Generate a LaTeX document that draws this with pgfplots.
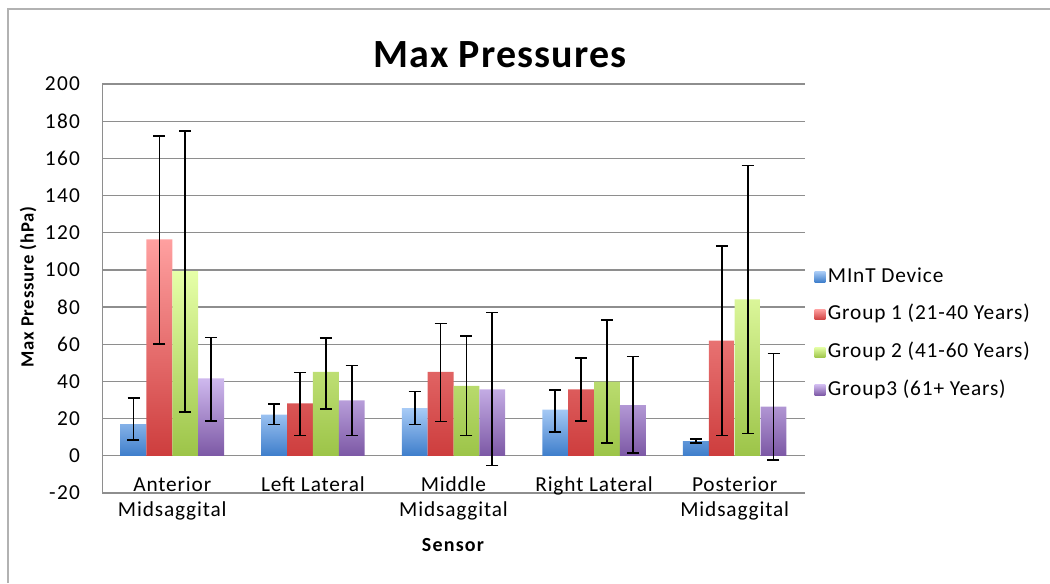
\documentclass[border=0pt]{standalone}
\usepackage{fontspec}
\setmainfont{Carlito}
\newfontfamily\fA{Carlito}[LetterSpace=6]
\newfontfamily\fB{Carlito}[LetterSpace=4]
\newfontfamily\fC{Carlito}[LetterSpace=3]
\usepackage{pgfplots}
\pgfplotsset{compat=1.18}
\definecolor{bT}{HTML}{A8CBF6}
\definecolor{bB}{HTML}{3E7ECB}
\definecolor{rT}{HTML}{FFA0A0}
\definecolor{rB}{HTML}{CD3D3D}
\definecolor{gT}{HTML}{E6FFA8}
\definecolor{gB}{HTML}{9CC448}
\definecolor{pT}{HTML}{CFB9EE}
\definecolor{pB}{HTML}{7C58A5}
\definecolor{gridc}{HTML}{8E8E8E}
\begin{document}
\begin{tikzpicture}
\path[use as bounding box] (0,0) rectangle (787.5pt,437.25pt);
\draw[gray!60,line width=1pt] (6pt,0pt) -- (6pt,430.5pt) -- (787.5pt,430.5pt);
\node[font=\fC\bfseries\fontsize{30}{34}\selectfont] at (375pt,396pt) {Max Pressures};
\node[rotate=90,font=\fB\bfseries\fontsize{14}{16}\selectfont] at (21pt,222pt) {Max Pressure (hPa)};
\node[font=\fA\bfseries\fontsize{15}{17}\selectfont] at (339.75pt,28.5pt) {Sensor};
\begin{axis}[
  at={(76.5pt,67.5pt)}, anchor=south west, scale only axis,
  width=527.25pt, height=306.75pt,
  xmin=-0.5, xmax=4.5, ymin=-20, ymax=200,
  ytick={-20,0,...,200}, xtick={0,...,4},
  xticklabels={{Anterior\\Midsaggital},{Left Lateral},{Middle\\Midsaggital},{Right Lateral},{Posterior\\Midsaggital}},
  xticklabel style={align=center, yshift=15.5pt, font=\fB\fontsize{16}{18.75}\selectfont},
  yticklabel style={font=\fA\fontsize{16}{18}\selectfont, xshift=-13pt},
  /pgf/number format/assume math mode=true,
  axis line style={draw=none},
  major tick length=0pt,
  ymajorgrids, grid style={gridc, line width=0.9pt},
  ybar=0pt, bar width=19.4pt,
  legend style={draw=none, fill=none, at={(1,0.39)}, anchor=west, xshift=4pt,
    font=\fB\fontsize{16}{18}\selectfont, row sep=9.3pt,
    nodes={inner sep=2pt, text height=11.5pt, text depth=3.5pt}},
  legend cell align=left,
  error bars/y dir=both, error bars/y explicit,
  error bars/error bar style={line width=1.3pt, black},
  error bars/error mark options={rotate=90, mark size=4.5pt, line width=1.2pt, black},
]
\draw[gridc, line width=0.9pt] (rel axis cs:0,0) -- (rel axis cs:0,1);
\addplot[draw=none, top color=bT, bottom color=bB,
  legend image code/.code={\fill[top color=bT,bottom color=bB] (0pt,-4pt) rectangle (8pt,4pt);}]
 coordinates {
 (0,17.1) += (0,14.0) -= (0,8.7)
 (1,22.1) += (0,5.8) -= (0,5.2)
 (2,25.7) += (0,9.0) -= (0,8.8)
 (3,24.8) += (0,10.6) -= (0,12.0)
 (4,7.9) += (0,1.1) -= (0,1.1)
 };
\addlegendentry{MInT Device}
\addplot[draw=none, top color=rT, bottom color=rB,
  legend image code/.code={\fill[top color=rT,bottom color=rB] (0pt,-4pt) rectangle (8pt,4pt);}]
 coordinates {
 (0,116.4) += (0,55.7) -= (0,56.2)
 (1,28.2) += (0,16.7) -= (0,17.2)
 (2,45.1) += (0,26.1) -= (0,26.6)
 (3,35.8) += (0,16.9) -= (0,17.1)
 (4,62.0) += (0,50.8) -= (0,51.0)
 };
\addlegendentry{Group 1 (21-40 Years)}
\addplot[draw=none, top color=gT, bottom color=gB,
  legend image code/.code={\fill[top color=gT,bottom color=gB] (0pt,-4pt) rectangle (8pt,4pt);}]
 coordinates {
 (0,99.4) += (0,75.4) -= (0,75.7)
 (1,45.1) += (0,18.3) -= (0,19.8)
 (2,37.6) += (0,26.7) -= (0,26.6)
 (3,39.9) += (0,33.1) -= (0,33.1)
 (4,84.1) += (0,72.1) -= (0,72.2)
 };
\addlegendentry{Group 2 (41-60 Years)}
\addplot[draw=none, top color=pT, bottom color=pB,
  legend image code/.code={\fill[top color=pT,bottom color=pB] (0pt,-4pt) rectangle (8pt,4pt);}]
 coordinates {
 (0,41.7) += (0,21.9) -= (0,23.0)
 (1,29.8) += (0,18.7) -= (0,18.8)
 (2,35.8) += (0,41.3) -= (0,41.0)
 (3,27.3) += (0,26.1) -= (0,25.7)
 (4,26.4) += (0,28.6) -= (0,28.7)
 };
\addlegendentry{Group3 (61+ Years)}
\end{axis}
\end{tikzpicture}
\end{document}
